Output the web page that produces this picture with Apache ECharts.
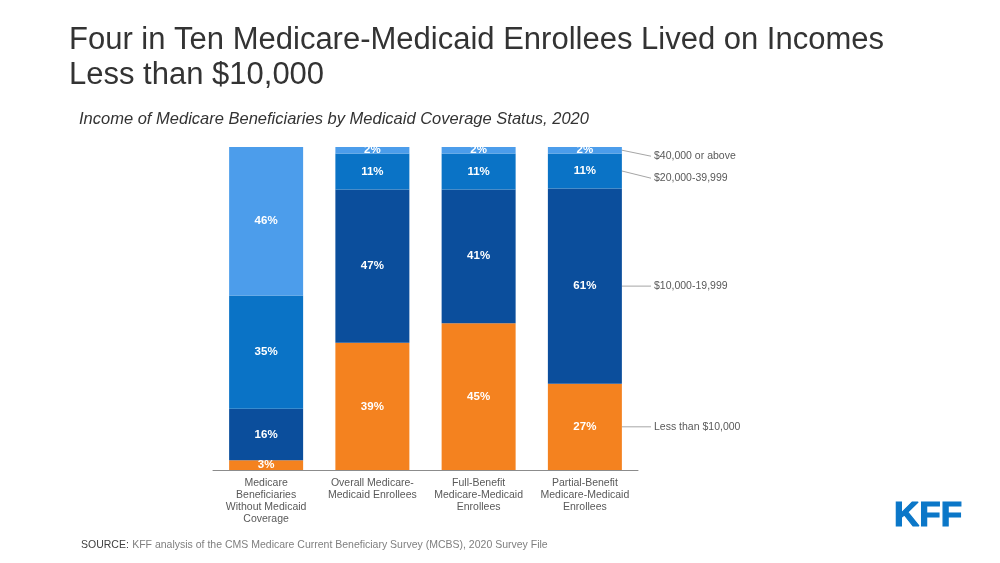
<!DOCTYPE html>
<html>
<head>
<meta charset="utf-8">
<script src="https://cdn.jsdelivr.net/npm/echarts@6/dist/echarts.min.js"></script>
<style>
html,body{margin:0;padding:0;background:#fff;}
#c{width:1000px;height:563px;}
</style>
</head>
<body>
<div id="c"></div>
<script>
const categories = [
  'Medicare\nBeneficiaries\nWithout Medicaid\nCoverage',
  'Overall Medicare-\nMedicaid Enrollees',
  'Full-Benefit\nMedicare-Medicaid\nEnrollees',
  'Partial-Benefit\nMedicare-Medicaid\nEnrollees'
];
const seriesNames = ['Less than $10,000', '$10,000-19,999', '$20,000-39,999', '$40,000 or above'];
const lessThan10k = [3, 39, 45, 27];
const from10kTo20k = [16, 47, 41, 61];
const from20kTo40k = [35, 11, 11, 11];
const above40k = [46, 2, 2, 2];
const colors = ['#F4821F', '#0B4E9C', '#0A73C6', '#4C9DEB'];

const valueSets = [lessThan10k, from10kTo20k, from20kTo40k, above40k];
const totals = categories.map((_, i) => valueSets.reduce((s, a) => s + a[i], 0));
const FONT = '"Liberation Sans", Arial, sans-serif';
const BAR_W = 74;

const chart = echarts.init(document.getElementById('c'), null, {renderer: 'canvas'});

const series = valueSets.map((vals, si) => ({
  name: seriesNames[si],
  type: 'bar',
  stack: 'total',
  barWidth: BAR_W,
  itemStyle: {color: colors[si]},
  data: vals.map((v, i) => ({value: v / totals[i] * 100, raw: v})),
  label: {
    show: true,
    position: 'inside',
    color: '#fff',
    fontFamily: FONT,
    fontWeight: 'bold',
    fontSize: 11.5,
    formatter: p => p.data.raw + '%'
  }
}));

chart.setOption({
  animation: false,
  backgroundColor: '#fff',
  title: [
    {
      text: 'Four in Ten Medicare-Medicaid Enrollees Lived on Incomes\nLess than $10,000',
      left: 64, top: 18,
      textStyle: {fontFamily: FONT, fontSize: 31, fontWeight: 'normal', color: '#333', lineHeight: 35}
    },
    {
      text: 'Income of Medicare Beneficiaries by Medicaid Coverage Status, 2020',
      left: 74, top: 106,
      textStyle: {fontFamily: FONT, fontSize: 16.5, fontStyle: 'italic', fontWeight: 'normal', color: '#333'}
    }
  ],
  grid: {left: 213, top: 147, width: 425, height: 323, containLabel: false},
  xAxis: {
    type: 'category',
    data: categories,
    axisLine: {show: true, lineStyle: {color: '#8c8c8c', width: 1}},
    axisTick: {show: false},
    axisLabel: {color: '#595959', fontFamily: FONT, fontSize: 10.5, lineHeight: 12, margin: 7, interval: 0}
  },
  yAxis: {
    type: 'value', min: 0, max: 100, show: false,
    splitLine: {show: false}
  },
  series: series
});

// leader labels for the last bar
function drawLeaders() {
  const last = categories.length - 1;
  const cx = chart.convertToPixel({xAxisIndex: 0}, last);
  const right = cx + BAR_W / 2;
  let cum = 0;
  const mids = [];
  valueSets.forEach((vals) => {
    const h = vals[last] / totals[last] * 100;
    mids.push(chart.convertToPixel({yAxisIndex: 0}, cum + h / 2));
    cum += h;
  });
  const ys = mids.slice();
  ys[3] = mids[3] + 6;
  ys[2] = Math.max(mids[2] + 5, ys[3] + 22);
  const textX = 654;
  const elements = [];
  seriesNames.forEach((name, i) => {
    elements.push({
      type: 'line',
      shape: {x1: right, y1: mids[i], x2: textX - 3, y2: ys[i]},
      style: {stroke: '#a6a6a6', lineWidth: 1}
    });
    elements.push({
      type: 'text',
      x: textX, y: ys[i],
      style: {text: name, fill: '#595959', font: '10.5px ' + FONT, textVerticalAlign: 'middle', verticalAlign: 'middle'}
    });
  });
  elements.push({
    type: 'text', x: 81, y: 545,
    style: {
      text: '{a|SOURCE:} {b|KFF analysis of the CMS Medicare Current Beneficiary Survey (MCBS), 2020 Survey File}',
      rich: {
        a: {fill: '#404040', color: '#404040', fontFamily: FONT, fontSize: 10.5},
        b: {fill: '#7f7f7f', color: '#7f7f7f', fontFamily: FONT, fontSize: 10.5}
      },
      verticalAlign: 'middle', textVerticalAlign: 'middle'
    }
  });
  elements.push({
    type: 'text', x: 894, y: 516,
    style: {
      text: 'KFF', fill: '#0B77C8',
      font: 'bold 35px "Liberation Sans", Arial, sans-serif',
      verticalAlign: 'middle', textVerticalAlign: 'middle',
      stroke: '#0B77C8', lineWidth: 1.2
    }
  });
  chart.setOption({graphic: {elements: elements}});
}
drawLeaders();
</script>
</body>
</html>
